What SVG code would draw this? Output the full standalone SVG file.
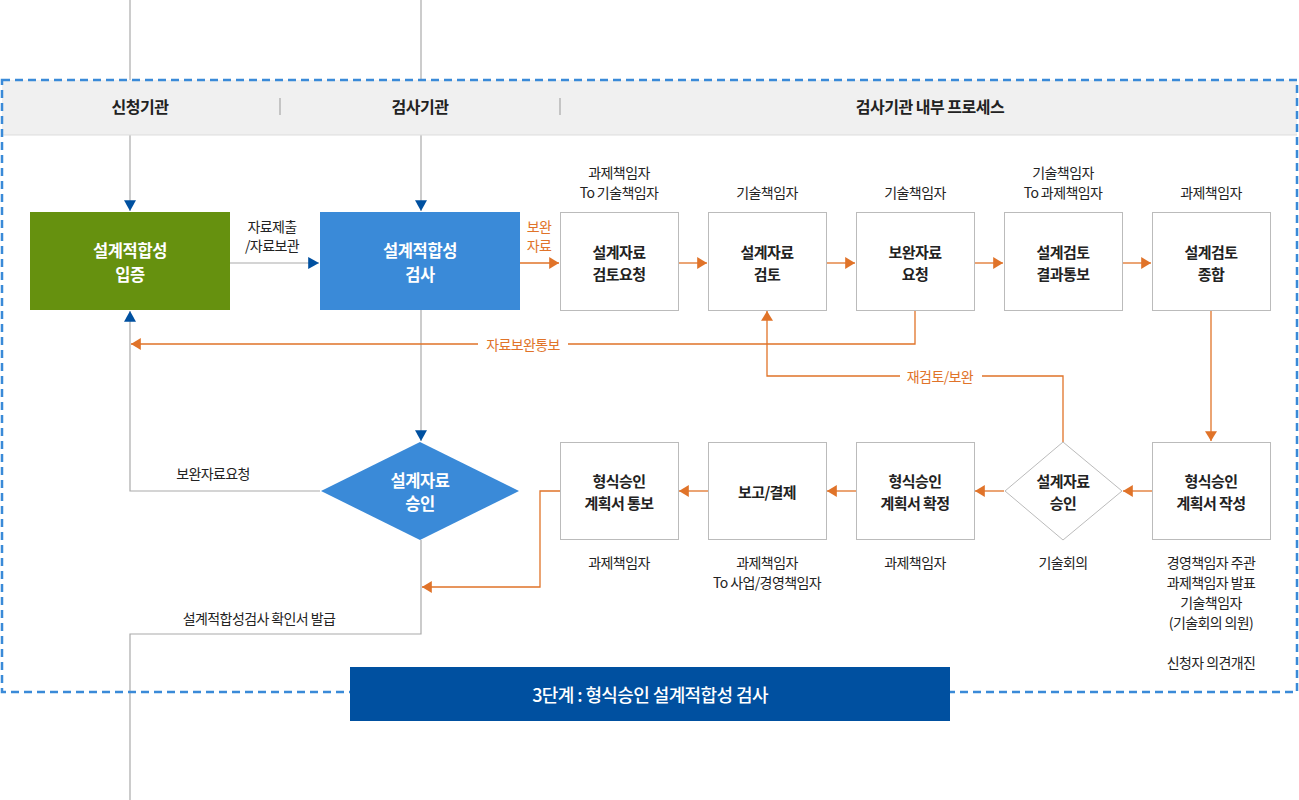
<svg xmlns="http://www.w3.org/2000/svg" width="1299" height="800" viewBox="0 0 1299 800">
<defs>
<style>
text{font-family:"Noto Sans CJK KR","Noto Sans",sans-serif;text-anchor:middle;dominant-baseline:central;}
.hd{font-size:16px;font-weight:700;fill:#222;letter-spacing:-0.5px}
.bx{fill:#fff;stroke:#bbbbbb;stroke-width:1}
.bt{font-size:15px;font-weight:700;fill:#222;letter-spacing:-0.6px}
.wt{font-size:16.5px;font-weight:700;fill:#fff;letter-spacing:-0.4px}
.lb{font-size:14px;fill:#222;letter-spacing:-0.6px}
.ol{font-size:14px;fill:#e07329;letter-spacing:-0.6px}
.g{fill:none;stroke:#aaaaaa;stroke-width:1.2}
.o{fill:none;stroke:#e07329;stroke-width:1.3}
</style>
<marker id="ab" markerUnits="userSpaceOnUse" markerWidth="12" markerHeight="12" refX="9" refY="5" orient="auto" viewBox="0 0 10 10"><path d="M0,0 L9,5 L0,10 z" fill="#0050a0"/></marker>
<marker id="ao" markerUnits="userSpaceOnUse" markerWidth="12" markerHeight="12" refX="9" refY="5.5" orient="auto" viewBox="0 0 10 11"><path d="M0,0 L9,5.5 L0,11 z" fill="#e07329"/></marker>
</defs>
<rect width="1299" height="800" fill="#fff"/>
<g id="connectors">
<path class="g" d="M130,0 V211" marker-end="url(#ab)"/>
<path class="g" d="M421,0 V211" marker-end="url(#ab)"/>
<path class="g" d="M230,263 H319" marker-end="url(#ab)"/>
<path class="g" d="M421,310 V441" marker-end="url(#ab)"/>
<path class="g" d="M320,491 H130 V311" marker-end="url(#ab)"/>
<path class="g" d="M421,540 V634 H130 V800"/>
<path class="o" d="M520,263 H559" marker-end="url(#ao)"/>
<path class="o" d="M678,263 H707" marker-end="url(#ao)"/>
<path class="o" d="M826,263 H855" marker-end="url(#ao)"/>
<path class="o" d="M974,263 H1003" marker-end="url(#ao)"/>
<path class="o" d="M1122,263 H1151" marker-end="url(#ao)"/>
<path class="o" d="M915,310 V344 H131" marker-end="url(#ao)"/>
<path class="o" d="M1063,442 V376 H767 V311" marker-end="url(#ao)"/>
<path class="o" d="M1211,310 V441" marker-end="url(#ao)"/>
<path class="o" d="M1152,491 H1123" marker-end="url(#ao)"/>
<path class="o" d="M1004,491 H975" marker-end="url(#ao)"/>
<path class="o" d="M856,491 H827" marker-end="url(#ao)"/>
<path class="o" d="M708,491 H679" marker-end="url(#ao)"/>
<path class="o" d="M560,491 H540 V587 H422" marker-end="url(#ao)"/>
<rect x="478" y="334" width="90" height="20" fill="#fff"/>
<text class="ol" x="523" y="344">자료보완통보</text>
<rect x="900" y="366" width="82" height="20" fill="#fff"/>
<text class="ol" x="940" y="376">재검토/보완</text>
<text class="lb" x="272" y="226">자료제출</text>
<text class="lb" x="272" y="245">/자료보관</text>
<text class="ol" x="539" y="226">보완</text>
<text class="ol" x="539" y="245">자료</text>
<text class="lb" x="213" y="473">보완자료요청</text>
<text class="lb" x="259" y="618">설계적합성검사 확인서 발급</text>
</g>
<g id="header">
<rect x="2" y="80" width="1295" height="55" fill="#f0f0f0"/>
<line x1="2" y1="135" x2="1297" y2="135" stroke="#dddddd" stroke-width="1"/>
<line x1="280" y1="98" x2="280" y2="115" stroke="#999" stroke-width="1"/>
<line x1="560" y1="98" x2="560" y2="115" stroke="#999" stroke-width="1"/>
<text class="hd" x="140" y="106">신청기관</text>
<text class="hd" x="420" y="106">검사기관</text>
<text class="hd" x="930" y="106">검사기관 내부 프로세스</text>
</g>
<rect id="frame" x="2" y="80" width="1295" height="612" fill="none" stroke="#3a8ad8" stroke-width="2.5" stroke-dasharray="8 5"/>
<g id="n-green">
<rect x="30" y="212" width="200" height="98" fill="#66910f"/>
<text class="wt" x="130" y="250">설계적합성</text>
<text class="wt" x="130" y="274">입증</text>
</g>
<g id="n-blue">
<rect x="320" y="212" width="200" height="98" fill="#3a8ad8"/>
<text class="wt" x="420" y="250">설계적합성</text>
<text class="wt" x="420" y="274">검사</text>
</g>
<g id="n-diamond-blue">
<polygon points="420,442 519,491 420,540 321,491" fill="#3a8ad8"/>
<text class="wt" x="420" y="480">설계자료</text>
<text class="wt" x="420" y="503">승인</text>
</g>
<g id="n1">
<text class="lb" x="619" y="172">과제책임자</text>
<text class="lb" x="619" y="192">To 기술책임자</text>
<rect class="bx" x="560.5" y="212.5" width="118" height="98"/>
<text class="bt" x="619" y="251">설계자료</text>
<text class="bt" x="619" y="273">검토요청</text>
</g>
<g id="n2">
<text class="lb" x="767" y="192">기술책임자</text>
<rect class="bx" x="708.5" y="212.5" width="118" height="98"/>
<text class="bt" x="767" y="251">설계자료</text>
<text class="bt" x="767" y="273">검토</text>
</g>
<g id="n3">
<text class="lb" x="915" y="192">기술책임자</text>
<rect class="bx" x="856.5" y="212.5" width="118" height="98"/>
<text class="bt" x="915" y="251">보완자료</text>
<text class="bt" x="915" y="273">요청</text>
</g>
<g id="n4">
<text class="lb" x="1063" y="172">기술책임자</text>
<text class="lb" x="1063" y="192">To 과제책임자</text>
<rect class="bx" x="1004.5" y="212.5" width="118" height="98"/>
<text class="bt" x="1063" y="251">설계검토</text>
<text class="bt" x="1063" y="273">결과통보</text>
</g>
<g id="n5">
<text class="lb" x="1211" y="192">과제책임자</text>
<rect class="bx" x="1152.5" y="212.5" width="118" height="98"/>
<text class="bt" x="1211" y="251">설계검토</text>
<text class="bt" x="1211" y="273">종합</text>
</g>
<g id="n6">
<rect class="bx" x="1152.5" y="442.5" width="118" height="97"/>
<text class="bt" x="1211" y="480">형식승인</text>
<text class="bt" x="1211" y="502">계획서 작성</text>
<text class="lb" x="1211" y="562">경영책임자 주관</text>
<text class="lb" x="1211" y="582">과제책임자 발표</text>
<text class="lb" x="1211" y="602">기술책임자</text>
<text class="lb" x="1211" y="622">(기술회의 의원)</text>
<text class="lb" x="1211" y="662">신청자 의견개진</text>
</g>
<g id="n7">
<polygon points="1063,442 1122,491 1063,540 1005,491" fill="#fff" stroke="#bbbbbb" stroke-width="1"/>
<text class="bt" x="1063" y="480">설계자료</text>
<text class="bt" x="1063" y="502">승인</text>
<text class="lb" x="1063" y="562">기술회의</text>
</g>
<g id="n8">
<rect class="bx" x="856.5" y="442.5" width="118" height="97"/>
<text class="bt" x="915" y="480">형식승인</text>
<text class="bt" x="915" y="502">계획서 확정</text>
<text class="lb" x="915" y="562">과제책임자</text>
</g>
<g id="n9">
<rect class="bx" x="708.5" y="442.5" width="118" height="97"/>
<text class="bt" x="767" y="491">보고/결제</text>
<text class="lb" x="767" y="562">과제책임자</text>
<text class="lb" x="767" y="582">To 사업/경영책임자</text>
</g>
<g id="n10">
<rect class="bx" x="560.5" y="442.5" width="118" height="97"/>
<text class="bt" x="619" y="480">형식승인</text>
<text class="bt" x="619" y="502">계획서 통보</text>
<text class="lb" x="619" y="562">과제책임자</text>
</g>
<g id="title">
<rect x="350" y="667" width="600" height="54" fill="#0050a0"/>
<text x="650" y="694" style="font-size:18px;font-weight:500;fill:#fff;letter-spacing:-0.6px">3단계 : 형식승인 설계적합성 검사</text>
</g>
</svg>
